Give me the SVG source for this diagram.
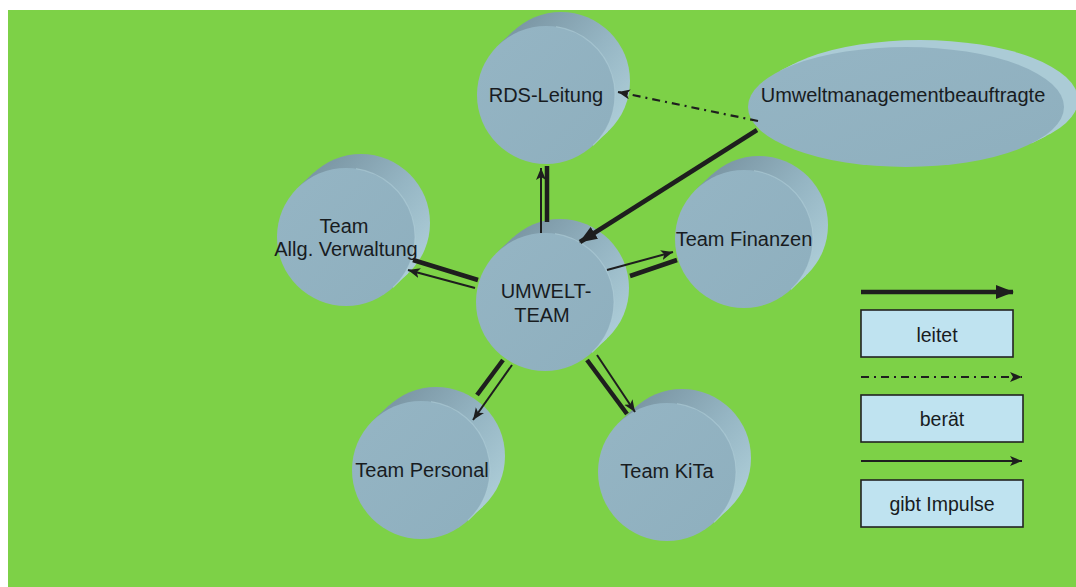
<svg xmlns="http://www.w3.org/2000/svg" xmlns:xlink="http://www.w3.org/1999/xlink" width="1076" height="587" viewBox="0 0 1076 587">
  <style>
    .lbl { font-family: "Liberation Sans", Arial, sans-serif; font-size: 20px; fill: #181c1f; text-anchor: middle; }
    .leg { font-family: "Liberation Sans", Arial, sans-serif; font-size: 19.5px; fill: #181c1f; text-anchor: middle; }
    .thick { stroke: #1e1e1e; stroke-width: 4.5; fill: none; }
    .thin { stroke: #1e1e1e; stroke-width: 2; fill: none; }
    .dashdot { stroke: #1e1e1e; stroke-width: 2.2; fill: none; stroke-dasharray: 8 5 2 5; }
    .legbox { fill: #bfe3f0; stroke: #222; stroke-width: 1.6; }
    .face { fill: url(#faceGrad); }
    .side { fill: url(#sideGrad); }
    .rim { fill: none; stroke: #b4d1db; stroke-width: 1.2; opacity: 0.5; }
  </style>
  <defs>
    <linearGradient id="sideGrad" gradientUnits="userSpaceOnUse" x1="-20" y1="-85" x2="85" y2="10">
      <stop offset="0" stop-color="#7a95a3"/>
      <stop offset="0.55" stop-color="#95b5c3"/>
      <stop offset="1" stop-color="#abcbd6"/>
    </linearGradient>
    <linearGradient id="faceGrad" x1="0" y1="0" x2="1" y2="1">
      <stop offset="0" stop-color="#95b5c4"/>
      <stop offset="1" stop-color="#8eafbe"/>
    </linearGradient>
    <linearGradient id="sideGradE" gradientUnits="userSpaceOnUse" x1="-60" y1="-70" x2="170" y2="20">
      <stop offset="0" stop-color="#7a95a3"/>
      <stop offset="0.6" stop-color="#95b5c3"/>
      <stop offset="1" stop-color="#abcbd6"/>
    </linearGradient>
    <!-- cylinder seen from the front, its back disk shifted up and right -->
    <g id="cyl">
      <circle class="side" cx="15" cy="-14" r="69"/>
      <polygon class="side" points="47.1,50.4 62.1,36.4 -32.1,-64.4 -47.1,-50.4"/>
      <circle class="face" cx="0" cy="0" r="69"/>
      <path class="rim" d="M 10,-68.3 A 69 69 0 0 1 47.1,50.4"/>
    </g>
    <marker id="headBig" markerUnits="userSpaceOnUse" markerWidth="20" markerHeight="16" refX="17" refY="7" orient="auto">
      <path d="M0,0 L18,7 L0,14 z" fill="#1e1e1e"/>
    </marker>
    <marker id="headSmall" markerUnits="userSpaceOnUse" markerWidth="14" markerHeight="12" refX="12" refY="5" orient="auto">
      <path d="M0,0 L12,5 L0,10 L3,5 z" fill="#1e1e1e"/>
    </marker>
  </defs>

  <!-- page and background -->
  <rect x="0" y="0" width="1076" height="587" fill="#ffffff"/>
  <rect x="8" y="10" width="1068" height="577" fill="#7dd147"/>

  <g id="node-rds">
    <use xlink:href="#cyl" href="#cyl" x="546" y="95"/>
    <text class="lbl" x="546" y="102">RDS-Leitung</text>
  </g>

  <g id="node-umb">
    <ellipse style="fill:url(#sideGradE)" cx="920" cy="100" rx="158" ry="60"/>
    <polygon style="fill:url(#sideGradE)" points="1031.9,143.3 1045.9,136.3 794.1,63.7 780.1,70.7"/>
    <ellipse class="face" cx="906" cy="107" rx="158" ry="60"/>
    <text class="lbl" x="903" y="102">Umweltmanagementbeauftragte</text>
  </g>

  <g id="node-verwaltung">
    <use xlink:href="#cyl" href="#cyl" x="346" y="237"/>
    <text class="lbl" x="344" y="233">Team</text>
    <text class="lbl" x="346" y="256">Allg. Verwaltung</text>
  </g>

  <g id="node-finanzen">
    <use xlink:href="#cyl" href="#cyl" x="744" y="239"/>
    <text class="lbl" x="744" y="246">Team Finanzen</text>
  </g>

  <g id="node-umweltteam">
    <use xlink:href="#cyl" href="#cyl" x="545" y="302"/>
    <text class="lbl" x="546" y="298">UMWELT-</text>
    <text class="lbl" x="542" y="322">TEAM</text>
  </g>

  <g id="node-personal">
    <use xlink:href="#cyl" href="#cyl" x="421" y="470"/>
    <text class="lbl" x="422" y="477">Team Personal</text>
  </g>

  <g id="node-kita">
    <use xlink:href="#cyl" href="#cyl" x="667" y="472"/>
    <text class="lbl" x="667" y="478">Team KiTa</text>
  </g>

  <g id="connectors">
    <line class="dashdot" x1="758" y1="121" x2="618" y2="92" marker-end="url(#headSmall)"/>
    <line class="thick" x1="757" y1="130" x2="580" y2="242" marker-end="url(#headBig)"/>

    <line class="thick" x1="547" y1="222" x2="547" y2="166"/>
    <line class="thin" x1="541" y1="233" x2="541" y2="168" marker-end="url(#headSmall)"/>

    <line class="thick" x1="478" y1="280" x2="413" y2="260"/>
    <line class="thin" x1="475" y1="288" x2="408" y2="270" marker-end="url(#headSmall)"/>

    <line class="thin" x1="607" y1="270" x2="673" y2="252" marker-end="url(#headSmall)"/>
    <line class="thick" x1="630" y1="276" x2="677" y2="260"/>

    <line class="thick" x1="503" y1="360" x2="477" y2="395"/>
    <line class="thin" x1="512" y1="365" x2="473" y2="420" marker-end="url(#headSmall)"/>

    <line class="thick" x1="587" y1="360" x2="627" y2="414"/>
    <line class="thin" x1="597" y1="355" x2="635" y2="412" marker-end="url(#headSmall)"/>
  </g>

  <g id="legend">
    <line class="thick" x1="861" y1="292" x2="1013" y2="292" stroke-width="5" marker-end="url(#headBig)"/>
    <rect class="legbox" x="861" y="310" width="152" height="47"/>
    <text class="leg" x="937" y="342">leitet</text>

    <line class="dashdot" x1="861" y1="377" x2="1022" y2="377" marker-end="url(#headSmall)"/>
    <rect class="legbox" x="861" y="395" width="162" height="47"/>
    <text class="leg" x="942" y="426">berät</text>

    <line class="thin" x1="861" y1="461" x2="1022" y2="461" marker-end="url(#headSmall)"/>
    <rect class="legbox" x="861" y="480" width="162" height="47"/>
    <text class="leg" x="942" y="511">gibt Impulse</text>
  </g>
</svg>
